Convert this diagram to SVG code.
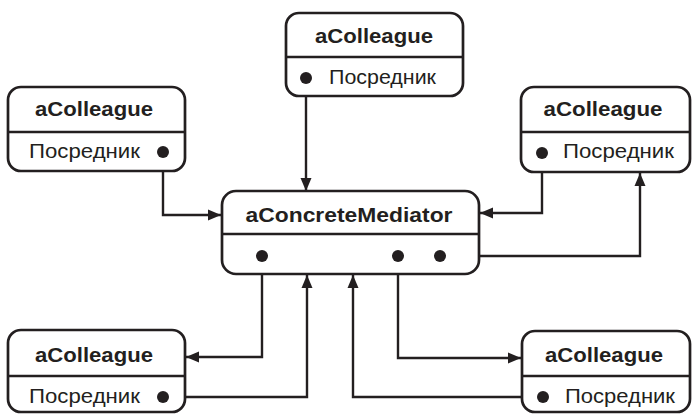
<svg xmlns="http://www.w3.org/2000/svg" width="693" height="414" viewBox="0 0 693 414">
<defs>
<style>
.box{fill:#fff;stroke:#231f20;stroke-width:2.7}
.div{stroke:#231f20;stroke-width:2.5}
.ttl{font-family:"Liberation Sans",Arial,sans-serif;font-weight:bold;font-size:21px;fill:#231f20;text-anchor:middle}
.att{font-family:"Liberation Sans",Arial,sans-serif;font-size:20px;fill:#231f20}
.dot{fill:#231f20}
.con{fill:none;stroke:#231f20;stroke-width:2.4;marker-end:url(#ah)}
</style>
<marker id="ah" markerUnits="userSpaceOnUse" markerWidth="14" markerHeight="12" refX="13" refY="6" orient="auto">
<path d="M0,0.5 L13,6 L0,11.5 z" fill="#231f20"/>
</marker>
</defs>
<g id="connectors">
<path class="con" d="M306,78 V191"/>
<path class="con" d="M163,152 V215 H221"/>
<path class="con" d="M542,153 V213 H480"/>
<path class="con" d="M440,256 H640 V173"/>
<path class="con" d="M262,256 V357 H186"/>
<path class="con" d="M163,397 H307 V275"/>
<path class="con" d="M398,256 V358 H521"/>
<path class="con" d="M543,397 H353 V275"/>
</g>
<g id="top">
<rect class="box" x="286" y="13" width="177" height="83" rx="13"/>
<line class="div" x1="286" y1="57" x2="463" y2="57"/>
<text class="ttl" x="374" y="43" textLength="118" lengthAdjust="spacingAndGlyphs">aColleague</text>
<text class="att" x="329" y="84" textLength="107" lengthAdjust="spacingAndGlyphs">Посредник</text>
<circle class="dot" cx="306" cy="78" r="6"/>
</g>
<g id="left">
<rect class="box" x="8" y="87" width="177" height="84" rx="13"/>
<line class="div" x1="8" y1="132" x2="185" y2="132"/>
<text class="ttl" x="94" y="116" textLength="118" lengthAdjust="spacingAndGlyphs">aColleague</text>
<text class="att" x="29" y="158" textLength="111" lengthAdjust="spacingAndGlyphs">Посредник</text>
<circle class="dot" cx="163" cy="152" r="6"/>
</g>
<g id="right">
<rect class="box" x="521" y="87" width="169" height="85" rx="13"/>
<line class="div" x1="521" y1="132" x2="690" y2="132"/>
<text class="ttl" x="603" y="116" textLength="119" lengthAdjust="spacingAndGlyphs">aColleague</text>
<text class="att" x="563" y="158" textLength="111" lengthAdjust="spacingAndGlyphs">Посредник</text>
<circle class="dot" cx="542" cy="153" r="6"/>
</g>
<g id="mediator">
<rect class="box" x="222" y="191" width="257" height="83" rx="14"/>
<line class="div" x1="222" y1="234" x2="479" y2="234"/>
<text class="ttl" x="349" y="222" textLength="207" lengthAdjust="spacingAndGlyphs">aConcreteMediator</text>
<circle class="dot" cx="262" cy="256" r="6"/>
<circle class="dot" cx="398" cy="256" r="6"/>
<circle class="dot" cx="440" cy="256" r="6"/>
</g>
<g id="bottomleft">
<rect class="box" x="8" y="330" width="177" height="82" rx="13"/>
<line class="div" x1="8" y1="376" x2="185" y2="376"/>
<text class="ttl" x="94" y="362" textLength="118" lengthAdjust="spacingAndGlyphs">aColleague</text>
<text class="att" x="29" y="403" textLength="111" lengthAdjust="spacingAndGlyphs">Посредник</text>
<circle class="dot" cx="163" cy="397" r="6"/>
</g>
<g id="bottomright">
<rect class="box" x="522" y="331" width="168" height="81" rx="13"/>
<line class="div" x1="522" y1="376" x2="690" y2="376"/>
<text class="ttl" x="604" y="362" textLength="118" lengthAdjust="spacingAndGlyphs">aColleague</text>
<text class="att" x="565" y="403" textLength="110" lengthAdjust="spacingAndGlyphs">Посредник</text>
<circle class="dot" cx="543" cy="397" r="6"/>
</g>
</svg>
